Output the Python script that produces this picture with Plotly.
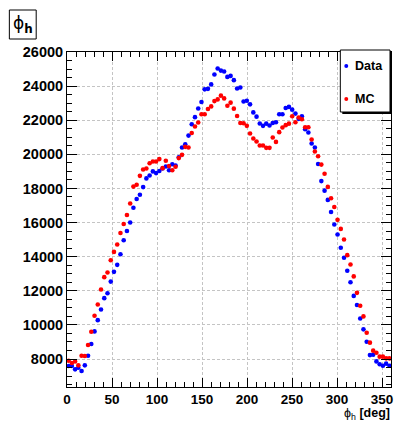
import plotly.graph_objects as go

# ---- data (100 bins of 3.6 deg over 0..360) ----
bin_width = 3.6
n_bins = 100
phi_centers = [bin_width * (i + 0.5) for i in range(n_bins)]

data_counts = [
    7590, 7590, 7395, 7490, 7300, 7630, 8195, 8880, 9620, 10280,
    10900, 11570, 11860, 12540, 13110, 13520, 14140, 14960, 15510, 16000,
    16870, 17380, 17630, 18080, 18590, 18760, 19000, 18900, 19020, 19170,
    19290, 19070, 19420, 19350, 19830, 20400, 20590, 21100, 21760, 22180,
    22690, 23070, 23810, 23840, 24100, 24680, 25030, 24910, 24860, 24540,
    24600, 24350, 23860, 23920, 23100, 23140, 22930, 22460, 22210, 21810,
    21670, 21800, 21690, 21840, 21880, 22350, 22350, 22720, 22780, 22620,
    22390, 22080, 22230, 21470, 21280, 20640, 20400, 19430, 18430, 17870,
    17330, 16620, 15890, 15300, 14520, 13935, 13175, 12500, 11700, 11170,
    10380, 9740, 9010, 8230, 8250, 7860, 7690, 7610, 7730, 7610,
]

mc_counts = [
    7900, 7770, 7860, 7630, 8195, 8175, 8820, 9600, 10540, 11200,
    12080, 12800, 13070, 13790, 14280, 14710, 15390, 15920, 16440, 17120,
    18110, 18220, 18740, 19110, 19170, 19480, 19580, 19580, 19720, 19190,
    19620, 19310, 19070, 19270, 19780, 19970, 20440, 20400, 21250, 21630,
    21870, 22350, 22350, 22660, 22810, 23120, 23220, 23440, 23280, 22850,
    23030, 22680, 22250, 21840, 21820, 21670, 21220, 20930, 20750, 20520,
    20520, 20380, 20380, 20990, 20730, 21300, 21570, 21710, 21800, 22230,
    21880, 22160, 22060, 21590, 21590, 20870, 20170, 19890, 19400, 18860,
    18090, 17430, 16910, 16160, 15630, 15010, 14090, 13545, 12845, 11880,
    11120, 10500, 9540, 8960, 8490, 8370, 8140, 8140, 8040, 8040,
]

series_names = ["Data", "MC"]
series_colors = ["#0000ff", "#ff0000"]

x_range = [0, 360]
y_range = [6360, 26000]

# ---- layout geometry (pixels) ----
W, H = 396, 421
L, R, T, B = 67, 3, 52, 34
PW, PH = W - L - R, H - T - B


def px2x(px):
    return (px - L) / PW


def px2y(py):
    return (H - B - py) / PH


FONT = "Liberation Sans, Arial, Helvetica, sans-serif"

fig = go.Figure()
for name, ys, col in zip(series_names, [data_counts, mc_counts], series_colors):
    fig.add_trace(go.Scatter(
        x=phi_centers, y=ys, mode="markers", name=name,
        marker=dict(color=col, size=4.6, symbol="circle", line=dict(width=0)),
        showlegend=False,
    ))

axis_common = dict(
    showline=True, linecolor="black", linewidth=1, mirror="allticks",
    ticks="inside", tickcolor="black", tickwidth=1,
    showgrid=True, gridcolor="#c4c4c4", gridwidth=1, griddash="3px,2px",
    zeroline=False,
)

fig.update_xaxes(
    range=x_range, tick0=0, dtick=50, ticklen=9,
    minor=dict(ticks="inside", dtick=10, ticklen=5, tickcolor="black", showgrid=False),
    tickfont=dict(family=FONT, size=13.5, color="black", weight="bold"),
    **axis_common,
)
fig.update_yaxes(
    range=y_range, tick0=0, dtick=2000, ticklen=10, tickformat="d",
    minor=dict(ticks="inside", dtick=500, ticklen=5, tickcolor="black", showgrid=False),
    tickfont=dict(family=FONT, size=14.5, color="black", weight="bold"),
    **axis_common,
)

shapes = []
annotations = []

# Title box "phi_h"
shapes.append(dict(type="rect", xref="paper", yref="paper",
                   x0=px2x(9), x1=px2x(36), y0=px2y(39), y1=px2y(10),
                   line=dict(color="black", width=1), fillcolor="white", layer="above"))
annotations.append(dict(xref="paper", yref="paper", x=px2x(22.5), y=px2y(25),
                        xanchor="center", yanchor="middle", showarrow=False,
                        text="ϕ<sub><b>h</b></sub>",
                        font=dict(family="DejaVu Sans, sans-serif", size=17, color="black")))

# Legend box (ROOT style with shadow)
lx0, lx1, ly0, ly1 = 342, 392, 50, 112
shapes.append(dict(type="rect", xref="paper", yref="paper",
                   x0=px2x(lx0), x1=px2x(lx1), y0=px2y(ly1), y1=px2y(ly0),
                   line=dict(color="black", width=1), fillcolor="white", layer="above"))
shapes.append(dict(type="line", xref="paper", yref="paper",
                   x0=px2x(lx1 + 1), x1=px2x(lx1 + 1), y0=px2y(ly0 + 2), y1=px2y(ly1 + 1.5),
                   line=dict(color="black", width=2), layer="above"))
shapes.append(dict(type="line", xref="paper", yref="paper",
                   x0=px2x(lx0 + 2), x1=px2x(lx1 + 2), y0=px2y(ly1 + 1), y1=px2y(ly1 + 1),
                   line=dict(color="black", width=2), layer="above"))
for k, (name, col) in enumerate(zip(series_names, series_colors)):
    cy = 66 + 33 * k
    shapes.append(dict(type="circle", xref="paper", yref="paper",
                       x0=px2x(346), x1=px2x(350), y0=px2y(cy + 2), y1=px2y(cy - 2),
                       line=dict(color=col, width=0), fillcolor=col, layer="above"))
    annotations.append(dict(xref="paper", yref="paper", x=px2x(355), y=px2y(cy),
                            xanchor="left", yanchor="middle", showarrow=False,
                            text=f"<b>{name}</b>",
                            font=dict(family=FONT, size=12.5, color="black")))

# X-axis title
annotations.append(dict(xref="paper", yref="paper", x=px2x(394), y=px2y(414.5),
                        xanchor="right", yanchor="middle", showarrow=False,
                        text="ϕ<sub>h</sub> <b>[deg]</b>",
                        font=dict(family=FONT, size=12.5, color="black")))

fig.update_layout(
    width=W, height=H,
    margin=dict(l=L, r=R, t=T, b=B, pad=0),
    paper_bgcolor="white", plot_bgcolor="white",
    shapes=shapes, annotations=annotations,
    showlegend=False,
)

fig.write_html("out.html")
